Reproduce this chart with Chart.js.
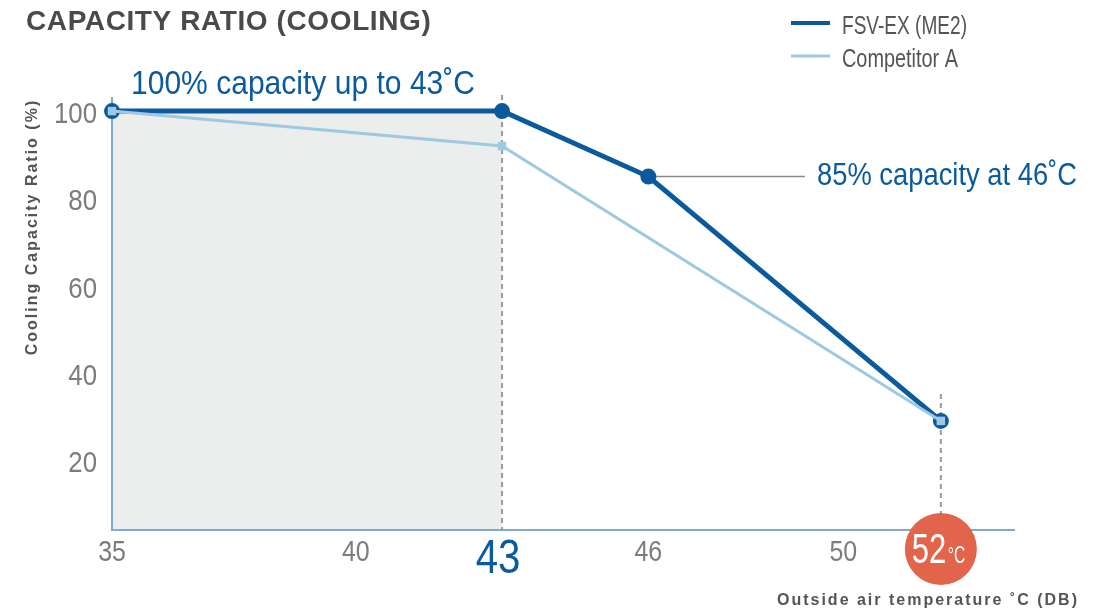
<!DOCTYPE html>
<html>
<head>
<meta charset="utf-8">
<script src="https://cdn.jsdelivr.net/npm/chart.js@4.4.1/dist/chart.umd.min.js"></script>
<style>
  html, body { margin: 0; padding: 0; background: #fff; }
  #wrap { width: 1097px; height: 616px; position: relative; }
</style>
</head>
<body>
<div id="wrap"><canvas id="capacityChart"></canvas></div>
<script>
// values
const fsvTemps = [35, 43, 46, 52];
const fsvRatio = [100, 100, 85, 29];
const compTemps = [35, 43, 52];
const compRatio = [100, 92, 29];
const seriesNames = ['FSV-EX (ME2)', 'Competitor A'];
const xTicks = [35, 40, 43, 46, 50];
const yTicks = [20, 40, 60, 80, 100];
const fullCapTemp = 43;
const ratedTemp = 46;
const maxTemp = 52;

const chartTitle = 'CAPACITY RATIO (COOLING)';
const yTitle = 'Cooling Capacity Ratio (%)';
const xTitle = 'Outside air temperature \u02DAC (DB)';
const note1 = '100% capacity up to 43\u02DAC';
const note2 = '85% capacity at 46\u02DAC';

const SANS = '"Liberation Sans", Arial, sans-serif';
const darkBlue = '#0b5a9e';
const lightBlue = '#9dc9e1';
const axisBlue = '#7faad0';
const tickGray = '#7c7c7c';

// no condensed face installed, so squeeze Liberation Sans horizontally
function narrowText(ctx, text, x, y, size, color, opts = {}) {
    const { align = 'left', width = null, sx = 0.86, bold = false } = opts;
    ctx.save();
    ctx.font = (bold ? 'bold ' : '') + size + 'px ' + SANS;
    const k = width ? width / ctx.measureText(text).width : sx;
    ctx.translate(x, y);
    ctx.scale(k, 1);
    ctx.textAlign = align;
    ctx.textBaseline = 'alphabetic';
    ctx.fillStyle = color;
    ctx.fillText(text, 0, 0);
    ctx.restore();
}

const overlay = {
    id: 'overlay',
    beforeDraw(chart) {
        const { ctx, chartArea, scales: { x, y } } = chart;
        const x0 = x.getPixelForValue(fsvTemps[0]);
        const x1 = x.getPixelForValue(fullCapTemp);
        const yTop = y.getPixelForValue(100);
        ctx.save();
        ctx.fillStyle = '#eceeed';
        ctx.fillRect(x0, yTop, x1 - x0, chartArea.bottom - yTop);
        ctx.restore();
    },
    beforeDatasetsDraw(chart) {
        const { ctx, chartArea, scales: { x, y } } = chart;
        ctx.save();
        ctx.setLineDash([5, 4]);
        ctx.lineWidth = 2;
        ctx.strokeStyle = '#9a9a9a';
        const x43 = x.getPixelForValue(fullCapTemp);
        ctx.beginPath();
        ctx.moveTo(x43, chartArea.top - 3);
        ctx.lineTo(x43, chartArea.bottom);
        ctx.stroke();
        const x52 = x.getPixelForValue(maxTemp);
        const y52 = y.getPixelForValue(fsvRatio[fsvRatio.length - 1]);
        ctx.beginPath();
        ctx.moveTo(x52, y52 - 27);
        ctx.lineTo(x52, chartArea.bottom);
        ctx.stroke();
        ctx.setLineDash([]);

        // connector to the 46 degree note
        const i46 = fsvTemps.indexOf(ratedTemp);
        const y46 = y.getPixelForValue(fsvRatio[i46]);
        ctx.strokeStyle = '#8a8a8a';
        ctx.lineWidth = 1.5;
        ctx.beginPath();
        ctx.moveTo(x.getPixelForValue(ratedTemp), y46);
        ctx.lineTo(805, y46);
        ctx.stroke();
        ctx.restore();
    },
    afterDraw(chart) {
        const { ctx, chartArea, scales: { x, y } } = chart;
        ctx.save();

        // title
        ctx.fillStyle = '#4a4a4a';
        ctx.font = 'bold 28px ' + SANS;
        ctx.letterSpacing = '0.6px';
        ctx.textBaseline = 'alphabetic';
        ctx.textAlign = 'left';
        ctx.fillText(chartTitle, 26, 30);
        ctx.letterSpacing = '0px';

        // legend
        const legendWidths = [125, 116];
        chart.data.datasets.forEach((ds, i) => {
            const ly = 23 + i * 33;
            ctx.strokeStyle = ds.borderColor;
            ctx.lineWidth = i === 0 ? 4 : 3;
            ctx.beginPath();
            ctx.moveTo(791, ly);
            ctx.lineTo(830, ly);
            ctx.stroke();
            narrowText(ctx, ds.label, 842, ly + 10.5, 25, '#555', { width: legendWidths[i] });
        });

        // notes
        narrowText(ctx, note1, 131, 93.5, 34, darkBlue, { width: 344 });
        narrowText(ctx, note2, 817, 184.5, 32, darkBlue, { width: 260 });

        // tick labels, placed by the scales
        x.ticks.forEach(t => {
            const px = x.getPixelForValue(t.value);
            if (t.value === fullCapTemp) {
                narrowText(ctx, String(t.value), px - 4, 573, 49, darkBlue, { align: 'center', sx: 0.82 });
            } else {
                narrowText(ctx, String(t.value), px, 561, 29, tickGray, { align: 'center', sx: 0.86 });
            }
        });
        y.ticks.forEach(t => {
            const py = y.getPixelForValue(t.value);
            narrowText(ctx, String(t.value), 97, py + 12, 30, tickGray, { align: 'right', sx: 0.86 });
        });

        // axis titles
        ctx.fillStyle = '#555';
        ctx.font = 'bold 16px ' + SANS;
        ctx.letterSpacing = '2px';
        ctx.textBaseline = 'middle';
        ctx.textAlign = 'right';
        ctx.fillText(xTitle, 1079, 601);
        ctx.save();
        ctx.translate(33, 227);
        ctx.rotate(-Math.PI / 2);
        ctx.textAlign = 'center';
        ctx.fillText(yTitle, 0, 0);
        ctx.restore();
        ctx.letterSpacing = '0px';

        // 52 degree badge
        const bx = x.getPixelForValue(maxTemp);
        const by = chartArea.bottom + 19;
        ctx.fillStyle = '#e2644a';
        ctx.beginPath();
        ctx.arc(bx, by, 36, 0, Math.PI * 2);
        ctx.fill();
        narrowText(ctx, String(maxTemp), bx - 29, by + 14, 42, '#fff', { width: 34.5 });
        narrowText(ctx, '\u00B0C', bx + 7, by + 14, 23, '#fff', { width: 17.5 });

        ctx.restore();
    }
};

new Chart(document.getElementById('capacityChart'), {
    type: 'line',
    data: {
        datasets: [
            {
                label: seriesNames[0],
                data: fsvTemps.map((t, i) => ({ x: t, y: fsvRatio[i] })),
                borderColor: darkBlue,
                backgroundColor: darkBlue,
                borderWidth: 5,
                pointRadius: 7,
                pointBorderWidth: 2,
                pointStyle: 'circle',
                clip: false,
                order: 2
            },
            {
                label: seriesNames[1],
                data: compTemps.map((t, i) => ({ x: t, y: compRatio[i] })),
                borderColor: lightBlue,
                backgroundColor: lightBlue,
                borderWidth: 3,
                pointRadius: 6,
                pointBorderWidth: 0,
                pointStyle: 'rect',
                clip: false,
                order: 1
            }
        ]
    },
    options: {
        responsive: true,
        maintainAspectRatio: false,
        animation: false,
        layout: { padding: { left: 0, right: 83, top: 98, bottom: 0 } },
        plugins: {
            legend: { display: false },
            tooltip: { enabled: false }
        },
        scales: {
            x: {
                type: 'linear',
                min: 35,
                max: 53.5,
                afterBuildTicks: scale => { scale.ticks = xTicks.map(v => ({ value: v })); },
                afterFit: scale => { scale.height = 86; },
                grid: { display: false, drawTicks: false },
                border: { display: true, color: axisBlue, width: 2 },
                ticks: { display: false }
            },
            y: {
                min: 4,
                max: 103,
                afterBuildTicks: scale => { scale.ticks = yTicks.map(v => ({ value: v })); },
                afterFit: scale => { scale.width = 112; },
                grid: { display: false, drawTicks: false },
                border: { display: true, color: axisBlue, width: 2 },
                ticks: { display: false }
            }
        }
    },
    plugins: [overlay]
});
</script>
</body>
</html>
